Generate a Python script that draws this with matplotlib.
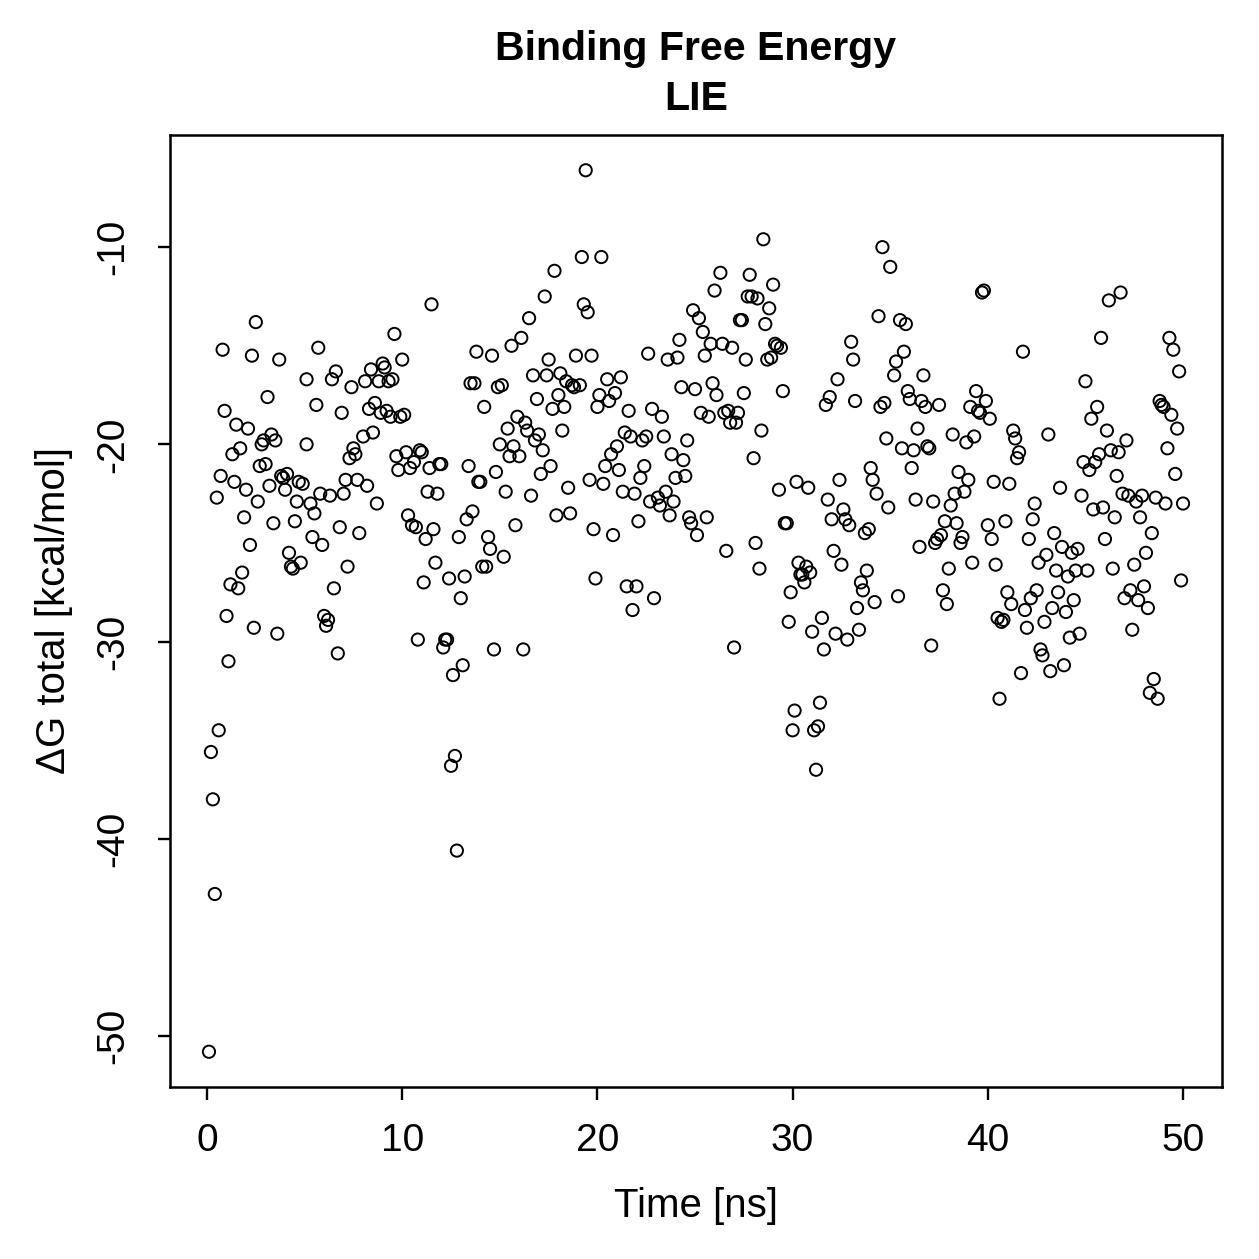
import matplotlib
matplotlib.use("Agg")
import matplotlib.pyplot as plt
import numpy as np

plt.rcParams['font.family'] = ['Liberation Sans', 'DejaVu Sans']
plt.rcParams['axes.unicode_minus'] = False

time_ns = [
 0.1,0.2,0.3,0.4,0.5,0.6,0.7,0.8,0.9,1.0,1.1,1.2,1.3,1.4,1.5,1.6,1.7,1.8,1.9,2.0,
 2.1,2.2,2.3,2.4,2.5,2.6,2.7,2.8,2.9,3.0,3.1,3.2,3.3,3.4,3.5,3.6,3.7,3.8,3.9,4.0,
 4.1,4.2,4.3,4.4,4.5,4.6,4.7,4.8,4.9,
 5.1,5.1,5.3,5.4,5.5,5.6,5.7,5.8,5.9,6.0,6.1,6.2,6.3,6.4,6.5,6.6,6.7,6.8,6.9,7.0,
 7.1,7.2,7.3,7.4,7.5,7.6,7.7,7.8,8.0,8.1,8.2,8.3,8.4,8.5,8.6,8.7,8.8,8.9,9.0,9.1,
 9.2,9.3,9.4,9.5,9.6,9.7,9.8,9.9,10.0,
 10.1,10.2,10.3,10.4,10.5,10.6,10.7,10.8,10.9,11.0,11.1,11.2,11.3,11.4,11.5,11.6,11.7,11.8,11.9,12.0,
 12.1,12.2,12.3,12.4,12.5,12.6,12.7,12.8,12.9,13.0,13.1,13.2,13.3,13.4,13.5,13.6,13.7,13.8,13.9,14.0,
 14.1,14.2,14.3,14.4,14.5,14.6,14.7,14.8,14.9,15.0,
 15.1,15.2,15.3,15.4,15.5,15.6,15.7,15.8,15.9,16.0,16.1,16.2,16.3,16.4,16.5,16.6,16.7,16.8,16.9,17.0,
 17.1,17.2,17.3,17.4,17.5,17.6,17.7,17.8,17.9,18.0,18.1,18.2,18.3,18.4,18.5,18.6,18.7,18.8,18.9,19.1,
 19.2,19.3,19.4,19.5,19.6,19.7,19.8,19.9,20.0,
 20.1,20.2,20.3,20.4,20.5,20.6,20.7,20.8,20.9,21.0,21.1,21.2,21.3,21.4,21.5,21.6,21.7,21.8,21.9,22.0,
 22.1,22.2,22.3,22.4,22.5,22.6,22.7,22.8,22.9,23.1,23.2,23.3,23.4,23.5,23.6,23.7,23.8,23.9,24.0,24.1,
 24.2,24.3,24.4,24.5,24.6,24.7,24.8,24.9,25.0,
 25.1,25.2,25.3,25.4,25.5,25.6,25.7,25.8,25.9,26.0,26.1,26.3,26.4,26.5,26.6,26.7,26.8,26.9,27.0,27.1,
 27.2,27.3,27.4,27.5,27.6,27.7,27.8,27.9,28.0,28.1,28.2,28.3,28.4,28.5,28.6,28.7,28.8,28.9,29.0,29.1,
 29.2,29.3,29.4,29.5,29.6,29.7,29.8,29.9,30.0,
 30.1,30.2,30.3,30.4,30.5,30.6,30.7,30.8,30.9,31.0,31.1,31.2,31.3,31.4,31.5,31.6,31.7,31.8,31.9,32.0,
 32.1,32.2,32.3,32.4,32.5,32.6,32.7,32.8,32.9,33.0,33.1,33.2,33.3,33.4,33.5,33.6,33.7,33.8,33.9,34.0,
 34.1,34.2,34.3,34.4,34.5,34.6,34.7,34.8,34.9,35.0,
 35.2,35.3,35.4,35.5,35.6,35.7,35.8,35.9,36.0,36.1,36.2,36.3,36.4,36.5,36.6,36.7,36.8,36.9,37.0,37.1,
 37.2,37.3,37.4,37.5,37.6,37.7,37.8,37.9,38.0,38.1,38.2,38.3,38.4,38.5,38.6,38.7,38.8,38.9,39.0,39.1,
 39.2,39.3,39.4,39.5,39.6,39.7,39.8,39.9,40.0,
 40.1,40.2,40.3,40.4,40.5,40.6,40.7,40.8,40.9,41.0,41.1,41.2,41.3,41.4,41.5,41.6,41.7,41.8,41.9,42.0,
 42.1,42.2,42.3,42.4,42.5,42.6,42.7,42.8,42.9,43.0,43.1,43.2,43.3,43.4,43.5,43.6,43.7,43.8,43.9,44.0,
 44.1,44.2,44.3,44.4,44.5,44.6,44.7,44.8,44.9,45.0,
 45.1,45.2,45.3,45.4,45.5,45.6,45.7,45.8,45.9,46.0,46.1,46.2,46.3,46.4,46.5,46.6,46.7,46.8,46.9,47.0,
 47.1,47.2,47.3,47.4,47.5,47.6,47.7,47.8,47.9,48.0,48.1,48.2,48.3,48.4,48.5,48.6,48.7,48.8,48.9,49.0,
 49.1,49.2,49.3,49.4,49.5,49.6,49.7,49.8,49.9,50.0,
]

dg_total = [
 -50.8,-35.6,-38.0,-42.8,-22.7,-34.5,-21.6,-15.2,-18.3,-28.7,-31.0,-27.1,-20.5,-21.9,-19.0,-27.3,-20.2,-26.5,-23.7,-22.3,
 -19.2,-25.1,-15.5,-29.3,-13.8,-22.9,-21.1,-20.0,-19.8,-21.0,-17.6,-22.1,-19.5,-24.0,-19.8,-29.6,-15.7,-21.6,-21.7,-22.3,
 -21.5,-25.5,-26.2,-26.3,-23.9,-22.9,-21.9,-26.0,-22.0,
 -20.0,-16.7,-23.0,-24.7,-23.5,-18.0,-15.1,-22.5,-25.1,-28.7,-29.2,-28.9,-22.6,-16.7,-27.3,-16.3,-30.6,-24.2,-18.4,-22.5,
 -21.8,-26.2,-20.7,-17.1,-20.2,-20.5,-21.8,-24.5,-19.6,-16.8,-22.1,-18.2,-16.2,-19.4,-17.9,-23.0,-16.8,-18.4,-15.9,-16.1,
 -18.3,-16.8,-18.6,-16.7,-14.4,-20.6,-21.3,-18.6,-15.7,
 -18.5,-20.4,-23.6,-21.2,-24.1,-20.9,-24.2,-29.9,-20.3,-20.4,-27.0,-24.8,-22.4,-21.2,-12.9,-24.3,-26.0,-22.5,-21.0,-21.0,
 -30.3,-29.9,-29.9,-26.8,-36.3,-31.7,-35.8,-40.6,-24.7,-27.8,-31.2,-26.7,-23.8,-21.1,-16.9,-23.4,-16.9,-15.3,-21.9,-21.9,
 -26.2,-18.1,-26.2,-24.7,-25.3,-15.5,-30.4,-21.4,-17.1,-20.0,
 -17.0,-25.7,-22.4,-19.2,-20.6,-15.0,-20.1,-24.1,-18.6,-20.6,-14.6,-30.4,-18.9,-19.3,-13.6,-22.6,-16.5,-19.8,-17.7,-19.5,
 -21.5,-20.3,-12.5,-16.5,-15.7,-21.1,-18.2,-11.2,-23.6,-17.5,-16.4,-19.3,-18.1,-16.8,-22.2,-23.5,-17.0,-17.1,-15.5,-17.0,
 -10.5,-12.9,-6.1,-13.3,-21.8,-15.5,-24.3,-26.8,-18.1,
 -17.5,-10.5,-22.0,-21.1,-16.7,-17.8,-20.5,-24.6,-17.4,-20.1,-21.3,-16.6,-22.4,-19.4,-27.2,-18.3,-19.6,-28.4,-22.5,-27.2,
 -23.9,-21.7,-19.8,-21.1,-19.6,-15.4,-22.9,-18.2,-27.8,-22.7,-23.1,-18.6,-19.6,-22.4,-15.7,-23.6,-20.5,-22.9,-21.7,-15.6,
 -14.7,-17.1,-20.8,-21.6,-19.8,-23.7,-24.0,-13.2,-17.2,
 -24.6,-13.6,-18.4,-14.3,-15.5,-23.7,-18.6,-14.9,-16.9,-12.2,-17.5,-11.3,-14.9,-18.4,-25.4,-18.3,-18.9,-15.1,-30.3,-18.9,
 -18.4,-13.7,-13.7,-17.4,-15.7,-12.5,-11.4,-12.5,-20.7,-25.0,-12.6,-26.3,-19.3,-9.6,-13.9,-15.7,-13.1,-15.6,-11.9,-14.9,
 -15.0,-22.3,-15.1,-17.3,-24.0,-24.0,-29.0,-27.5,-34.5,
 -33.5,-21.9,-26.0,-26.6,-26.6,-27.0,-26.2,-22.2,-26.5,-29.5,-34.5,-36.5,-34.3,-33.1,-28.8,-30.4,-18.0,-22.8,-17.6,-23.8,
 -25.4,-29.6,-16.7,-21.8,-26.1,-23.3,-23.8,-29.9,-24.1,-14.8,-15.7,-17.8,-28.3,-29.4,-27.0,-27.4,-24.5,-26.4,-24.3,-21.2,
 -21.8,-28.0,-22.5,-13.5,-18.1,-10.0,-17.9,-19.7,-23.2,-11.0,
 -16.5,-15.8,-27.7,-13.7,-20.2,-15.3,-13.9,-17.3,-17.7,-21.2,-20.3,-22.8,-19.2,-25.2,-17.8,-16.5,-18.1,-20.1,-20.2,-30.2,
 -22.9,-25.0,-24.8,-18.0,-24.6,-27.4,-23.9,-28.1,-26.3,-23.1,-19.5,-22.5,-24.0,-21.4,-25.0,-24.7,-22.4,-19.9,-21.8,-18.1,
 -26.0,-19.6,-17.3,-18.3,-18.4,-12.3,-12.2,-17.8,-24.1,
 -18.7,-24.8,-21.9,-26.1,-28.8,-32.9,-29.0,-28.9,-23.9,-27.5,-22.0,-28.1,-19.3,-19.7,-20.7,-20.4,-31.6,-15.3,-28.4,-29.3,
 -24.8,-27.8,-23.8,-23.0,-27.4,-26.0,-30.4,-30.7,-29.0,-25.6,-19.5,-31.5,-28.3,-24.5,-26.4,-27.5,-22.2,-25.2,-31.2,-28.5,
 -26.7,-29.8,-25.5,-27.9,-26.4,-25.3,-29.6,-22.6,-20.9,-16.8,
 -26.4,-21.3,-18.7,-23.3,-20.9,-18.1,-20.5,-14.6,-23.2,-24.8,-19.3,-12.7,-20.3,-26.3,-23.7,-21.6,-20.4,-12.3,-22.5,-27.8,
 -19.8,-22.6,-27.4,-29.4,-26.1,-22.9,-27.9,-23.7,-22.6,-27.2,-25.5,-28.3,-32.6,-24.5,-31.9,-22.7,-32.9,-17.8,-18.0,-18.1,
 -23.0,-20.2,-14.6,-18.5,-15.2,-21.5,-19.2,-16.3,-26.9,-23.0,
]

n = min(len(time_ns), len(dg_total))
x = np.array(time_ns[:n])
y = np.array(dg_total[:n])

fig = plt.figure(figsize=(6.295, 6.295), dpi=200)
ax = fig.add_axes([170/1259, 1 - 1087/1259, (1222-170)/1259, (1087-135)/1259])

ax.scatter(x, y, s=4.4**2, facecolors='none', edgecolors='black', linewidths=0.7)

xr = x.max() - x.min()
yr = y.max() - y.min()
ax.set_xlim(x.min() - 0.04*xr, x.max() + 0.04*xr)
ax.set_ylim(y.min() - 0.04*yr, y.max() + 0.04*yr)

ax.set_xticks([0, 10, 20, 30, 40, 50])
ax.set_yticks([-50, -40, -30, -20, -10])
ax.tick_params(direction='out', length=4.5, width=0.85, labelsize=14)
ax.tick_params(axis='x', pad=8.5)
ax.tick_params(axis='y', pad=9.5)
for lab in ax.get_yticklabels():
    lab.set_rotation(90)
    lab.set_va('center')
for s in ax.spines.values():
    s.set_linewidth(0.9)

ax.set_xlabel('Time [ns]', fontsize=14.5, labelpad=10)
ax.set_ylabel('ΔG total [kcal/mol]', fontsize=14.5, labelpad=8)
ax.set_title('Binding Free Energy\nLIE', fontsize=14.8, fontweight='bold', pad=9, linespacing=1.4)

fig.savefig('out.png', dpi=200)
